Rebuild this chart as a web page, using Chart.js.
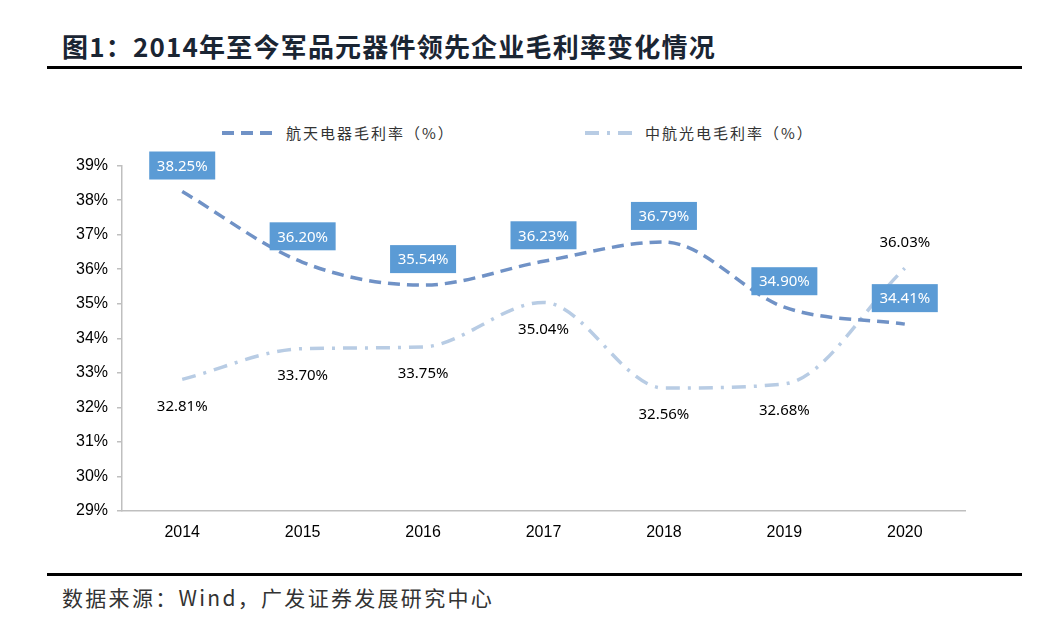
<!DOCTYPE html>
<html lang="zh">
<head>
  <meta charset="UTF-8">
  <title>军品元器件领先企业毛利率</title>
  <script src="https://cdn.jsdelivr.net/npm/chart.js@4.4.0/dist/chart.umd.min.js"></script>
  <style>
    body { margin: 0; background: #fff; width: 1052px; height: 633px; position: relative; overflow: hidden; }
    .title {
      position: absolute; left: 62px; top: 27px;
      font-family: "Noto Sans CJK SC", sans-serif; font-weight: bold; font-size: 26px;
      color: #1a2533; letter-spacing: 1.2px;
    }
    .rule { position: absolute; left: 47px; width: 975px; height: 3px; background: #000; }
    .legend {
      position: absolute; top: 122px; font-family: "Noto Sans CJK SC", sans-serif;
      font-size: 15px; color: #333; letter-spacing: 2px; display: flex; align-items: center;
    }
    .legend svg { margin-right: 8px; }
    .source {
      position: absolute; left: 62px; top: 582px;
      font-family: "Noto Sans CJK SC", sans-serif; font-size: 21px; color: #333; letter-spacing: 2.3px;
    }
    .chart-box { position: absolute; left: 0; top: 147px; width: 1052px; height: 413px; }
  </style>
</head>
<body>
  <div class="title">图1：2014年至今军品元器件领先企业毛利率变化情况</div>
  <div class="rule" style="top:66px"></div>

  <div class="legend" style="left:222px">
    <svg width="56" height="6"><line x1="0" y1="3" x2="56" y2="3" stroke="#7092c6" stroke-width="4" stroke-dasharray="12,7"/></svg>
    <span>航天电器毛利率（%）</span>
  </div>
  <div class="legend" style="left:585px">
    <svg width="52" height="6"><line x1="0" y1="3" x2="52" y2="3" stroke="#b8cce4" stroke-width="4" stroke-dasharray="14,8,3,8"/></svg>
    <span>中航光电毛利率（%）</span>
  </div>

  <div class="chart-box"><canvas id="c"></canvas></div>

  <div class="rule" style="top:573px"></div>
  <div class="source">数据来源：Wind，广发证券发展研究中心</div>

  <script>
    // 数据
    const years = ["2014", "2015", "2016", "2017", "2018", "2019", "2020"];
    const hangtian = [38.25, 36.20, 35.54, 36.23, 36.79, 34.90, 34.41];
    const zhonghang = [32.81, 33.70, 33.75, 35.04, 32.56, 32.68, 36.03];
    const zhonghangLabelPos = ["below", "below", "below", "below", "below", "below", "above"];
    const yTicks = [29, 30, 31, 32, 33, 34, 35, 36, 37, 38, 39];

    // 数据标签
    const labelPlugin = {
      id: "valueLabels",
      afterDatasetsDraw(chart) {
        const ctx = chart.ctx;
        ctx.save();
        ctx.font = "15px 'Noto Sans', sans-serif";
        ctx.textAlign = "center";
        ctx.textBaseline = "middle";
        chart.getDatasetMeta(0).data.forEach((pt, i) => {
          const txt = hangtian[i].toFixed(2) + "%";
          const cy = pt.y - 26;
          ctx.fillStyle = "#5b9bd5";
          ctx.fillRect(pt.x - 33, cy - 14, 66, 28);
          ctx.fillStyle = "#fff";
          ctx.fillText(txt, pt.x, cy + 1);
        });
        chart.getDatasetMeta(1).data.forEach((pt, i) => {
          const txt = zhonghang[i].toFixed(2) + "%";
          const cy = zhonghangLabelPos[i] === "above" ? pt.y - 25 : pt.y + 27;
          ctx.fillStyle = "#000";
          ctx.fillText(txt, pt.x, cy);
        });
        ctx.restore();
      }
    };

    new Chart(document.getElementById("c"), {
      type: "line",
      data: {
        labels: years,
        datasets: [
          {
            label: "航天电器毛利率（%）",
            data: hangtian,
            borderColor: "#7092c6",
            borderWidth: 3.5,
            borderDash: [12, 7],
            pointRadius: 0,
            cubicInterpolationMode: "monotone",
            fill: false
          },
          {
            label: "中航光电毛利率（%）",
            data: zhonghang,
            borderColor: "#b8cce4",
            borderWidth: 3.5,
            borderDash: [14, 8, 3, 8],
            pointRadius: 0,
            cubicInterpolationMode: "monotone",
            fill: false
          }
        ]
      },
      options: {
        responsive: true,
        maintainAspectRatio: false,
        animation: false,
        layout: { padding: { left: 0, right: 87, top: 11, bottom: 9 } },
        plugins: { legend: { display: false }, tooltip: { enabled: false } },
        scales: {
          x: {
            offset: true,
            grid: { display: false },
            border: { display: true, color: "#bfbfbf", width: 1.5 },
            ticks: { color: "#000", font: { family: "'Liberation Sans', Arial", size: 16 }, padding: 4 },
            afterFit(s) { s.height = 40; }
          },
          y: {
            min: 29,
            max: 39,
            afterBuildTicks(s) { s.ticks = yTicks.map(v => ({ value: v })); },
            grid: { drawOnChartArea: false, drawTicks: true, tickLength: 5, color: "#bfbfbf", lineWidth: 1.5 },
            border: { display: true, color: "#bfbfbf", width: 1.5 },
            ticks: {
              color: "#000",
              font: { family: "'Liberation Sans', Arial", size: 16 },
              padding: 9,
              callback: v => v + "%"
            },
            afterFit(s) { s.width = 122; }
          }
        }
      },
      plugins: [labelPlugin]
    });
  </script>
</body>
</html>
